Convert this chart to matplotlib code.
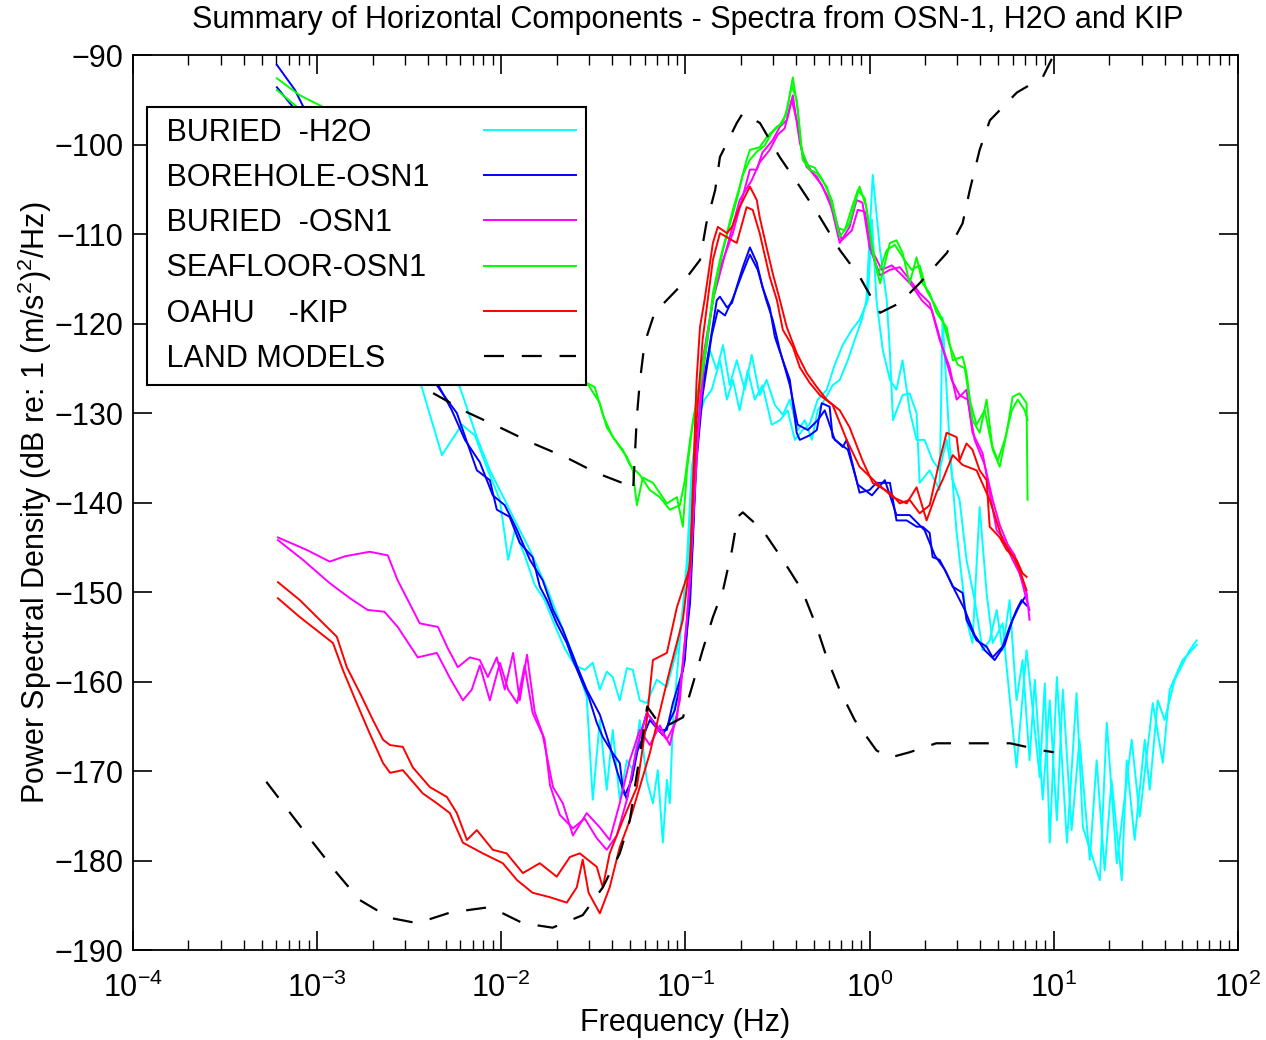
import numpy as np
import matplotlib.pyplot as plt
from matplotlib.ticker import LogLocator, NullFormatter

plt.rcParams['font.family'] = ['Liberation Sans', 'DejaVu Sans']
plt.rcParams['mathtext.fontset'] = 'custom'
plt.rcParams['mathtext.rm'] = 'Liberation Sans'
plt.rcParams['mathtext.it'] = 'Liberation Sans:italic'

# (frequency Hz, PSD dB) pairs, two horizontal components per site

# BURIED -H2O
h2o_1 = np.array([
    (1.17e-3, -111.8), (3.70e-3, -127.1), (4.76e-3, -134.7), (6.11e-3, -131.3), (7.19e-3, -132.5),
    (8.46e-3, -136.4), (9.83e-3, -139.7), (1.09e-2, -146.4), (1.185e-2, -143.1), (1.34e-2, -145.9),
    (1.52e-2, -149.2), (1.72e-2, -150.9), (1.95e-2, -153.7), (2.21e-2, -156.3), (2.51e-2, -158.2),
    (2.84e-2, -158.7), (3.14e-2, -157.9), (3.43e-2, -160.9), (3.74e-2, -158.9), (4.03e-2, -159.5),
    (4.40e-2, -162.1), (4.81e-2, -158.5), (5.18e-2, -158.7), (5.65e-2, -162.1), (6.17e-2, -162.4),
    (6.99e-2, -159.8), (7.93e-2, -160.6), (8.99e-2, -156.5), (0.102, -149.4), (0.108, -137.5),
    (0.115, -130.8), (0.124, -126.9), (0.136, -123.0), (0.148, -125.2), (0.160, -122.4),
    (0.174, -126.9), (0.190, -124.1), (0.210, -127.4), (0.229, -123.5), (0.253, -128.0),
    (0.276, -126.3), (0.306, -129.1), (0.338, -130.2), (0.369, -128.5), (0.407, -131.9),
    (0.445, -130.8), (0.486, -133.0), (0.523, -129.7), (0.571, -128.5), (0.630, -126.9),
    (0.689, -126.3), (0.762, -124.1), (0.831, -121.8), (0.907, -119.6), (0.961, -117.4),
    (1.04, -103.4), (1.14, -111.8), (1.24, -117.4), (1.29, -123.3), (1.34, -130.8),
    (1.51, -128.0), (1.65, -127.8), (1.80, -130.0), (1.87, -137.8), (2.12, -136.4),
    (2.40, -138.6), (2.49, -119.3), (2.72, -133.4), (2.97, -143.4), (3.36, -153.1),
    (3.62, -155.7), (3.96, -140.5), (4.32, -150.1), (4.66, -155.7), (5.28, -153.5),
    (5.55, -158.4), (6.28, -169.6), (7.12, -156.5), (8.39, -170.7), (8.94, -160.2),
    (9.51, -178.0), (10.4, -159.5), (11.8, -178.0), (13.3, -161.3), (14.4, -176.3),
    (17.8, -182.2), (19.4, -164.6), (22.0, -180.3), (26.5, -166.5), (29.3, -175.1),
    (34.5, -162.4), (39.1, -169.1), (42.6, -160.9), (50.1, -157.6), (59.7, -155.9),
])
h2o_2 = np.array([
    (1.33e-3, -112.9), (5.96e-3, -127.1), (7.37e-3, -132.7), (8.67e-3, -136.4), (1.045e-2, -139.7),
    (1.185e-2, -142.0), (1.43e-2, -145.3), (1.79e-2, -149.8), (2.16e-2, -154.2), (2.51e-2, -157.6),
    (2.91e-2, -161.7), (3.14e-2, -173.2), (3.43e-2, -164.3), (3.74e-2, -172.1), (4.03e-2, -165.4),
    (4.40e-2, -173.2), (4.81e-2, -168.8), (5.18e-2, -169.9), (5.65e-2, -164.3), (6.17e-2, -171.0),
    (6.66e-2, -173.6), (7.08e-2, -169.9), (7.54e-2, -178.0), (7.93e-2, -171.0), (8.23e-2, -173.6),
    (8.55e-2, -164.6), (9.33e-2, -155.4), (0.102, -146.4), (0.108, -136.4), (0.117, -130.8),
    (0.127, -128.5), (0.139, -127.4), (0.154, -124.1), (0.168, -128.5), (0.181, -126.3),
    (0.197, -129.7), (0.218, -125.2), (0.238, -128.5), (0.262, -126.9), (0.294, -131.3),
    (0.326, -130.8), (0.359, -129.7), (0.393, -133.0), (0.433, -131.9), (0.472, -131.3),
    (0.523, -128.5), (0.585, -127.4), (0.647, -124.6), (0.715, -122.4), (0.801, -120.7),
    (0.882, -119.6), (0.978, -117.4), (1.03, -108.4), (1.09, -117.4), (1.18, -123.0),
    (1.29, -126.3), (1.40, -127.4), (1.51, -124.1), (1.65, -129.7), (1.80, -133.0),
    (1.99, -133.0), (2.20, -135.3), (2.40, -136.4), (2.62, -133.0), (2.83, -137.5),
    (3.08, -139.7), (3.36, -146.4), (3.72, -150.9), (4.11, -156.5), (4.49, -155.4),
    (4.90, -152.0), (5.28, -156.5), (5.76, -150.9), (6.28, -162.1), (6.77, -157.6),
    (7.39, -168.8), (7.89, -159.8), (8.71, -173.2), (9.51, -162.1), (10.4, -175.5),
    (11.2, -160.9), (12.5, -176.6), (13.8, -166.5), (15.7, -179.9), (17.1, -168.8),
    (18.9, -181.1), (20.6, -171.0), (23.4, -182.2), (24.9, -168.8), (27.5, -177.7),
    (31.2, -166.5), (33.2, -172.1), (36.7, -162.1), (40.0, -164.3), (45.4, -159.8),
    (54.7, -156.5), (59.7, -155.4),
])

# BOREHOLE-OSN1
bore_1 = np.array([
    (6.05e-4, -91.1), (7.58e-4, -93.9), (1.17e-3, -101.7), (2.19e-3, -114.0), (4.47e-3, -126.9),
    (5.07e-3, -128.5), (5.74e-3, -130.0), (7.37e-3, -136.4), (8.67e-3, -137.5), (9.46e-3, -140.8),
    (1.11e-2, -141.6), (1.26e-2, -144.5), (1.48e-2, -146.1), (1.62e-2, -149.4), (1.77e-2, -150.9),
    (2.00e-2, -153.5), (2.27e-2, -155.7), (2.45e-2, -157.6), (2.77e-2, -160.2), (2.98e-2, -161.7),
    (3.30e-2, -164.6), (3.56e-2, -166.2), (4.03e-2, -168.0), (4.40e-2, -169.1), (4.57e-2, -171.8),
    (4.81e-2, -173.2), (5.18e-2, -169.9), (5.65e-2, -166.2), (6.17e-2, -163.5), (7.26e-2, -165.4),
    (7.93e-2, -165.4), (8.55e-2, -162.4), (9.69e-2, -158.7), (0.106, -151.2), (0.110, -143.9),
    (0.115, -133.0), (0.124, -127.1), (0.136, -122.2), (0.148, -117.4), (0.154, -117.0),
    (0.168, -118.2), (0.179, -117.7), (0.190, -115.9), (0.205, -113.7), (0.224, -111.5),
    (0.244, -113.2), (0.262, -115.9), (0.287, -118.2), (0.306, -121.5), (0.338, -124.1),
    (0.369, -126.3), (0.402, -132.2), (0.418, -133.0), (0.472, -132.5), (0.517, -131.9),
    (0.550, -128.9), (0.607, -129.3), (0.630, -132.7), (0.715, -133.8), (0.751, -133.0),
    (0.882, -138.9), (1.00, -138.6), (1.09, -137.8), (1.29, -137.8), (1.40, -142.0),
    (1.59, -142.0), (1.80, -142.7), (1.94, -142.7), (2.12, -143.4), (2.20, -146.1),
    (2.40, -146.4), (2.62, -147.9), (2.83, -149.4), (3.20, -150.1), (3.36, -153.1),
    (3.81, -155.4), (4.32, -156.1), (4.66, -157.3), (5.28, -156.1), (5.76, -153.9),
    (6.28, -152.0), (6.69, -150.9), (7.12, -151.5),
])
bore_2 = np.array([
    (6.05e-4, -93.6), (7.39e-4, -95.8), (1.17e-3, -104.0), (2.19e-3, -115.1), (4.64e-3, -127.2),
    (5.39e-3, -129.7), (6.35e-3, -133.0), (7.65e-3, -135.5), (9.00e-3, -139.2), (1.045e-2, -140.3),
    (1.22e-2, -143.1), (1.43e-2, -146.4), (1.68e-2, -148.7), (1.91e-2, -152.0), (2.16e-2, -154.2),
    (2.57e-2, -158.2), (2.91e-2, -160.9), (3.43e-2, -163.7), (3.88e-2, -167.1), (4.24e-2, -169.9),
    (4.69e-2, -172.7), (5.12e-2, -171.0), (5.50e-2, -167.7), (6.41e-2, -164.3), (7.54e-2, -166.0),
    (8.76e-2, -163.2), (9.93e-2, -157.6), (0.108, -146.4), (0.115, -135.3), (0.124, -128.0),
    (0.139, -121.3), (0.150, -118.5), (0.164, -119.1), (0.181, -117.2), (0.202, -114.6),
    (0.224, -112.3), (0.247, -114.0), (0.273, -117.2), (0.298, -119.6), (0.326, -123.0),
    (0.369, -126.9), (0.407, -131.3), (0.462, -131.9), (0.523, -130.8), (0.571, -129.7),
    (0.647, -133.0), (0.762, -134.1), (0.863, -138.0), (1.03, -139.2), (1.21, -137.5),
    (1.40, -141.4), (1.65, -141.4), (1.99, -143.1), (2.26, -145.9), (2.56, -147.5),
    (2.90, -149.8), (3.29, -152.0), (3.72, -154.8), (4.22, -156.5), (4.78, -157.6),
    (5.42, -155.9), (5.98, -153.1), (6.52, -151.5), (7.12, -150.3),
])

# BURIED -OSN1
buried_1 = np.array([
    (6.13e-4, -143.9), (8.80e-4, -145.3), (1.17e-3, -146.6), (1.42e-3, -146.0), (1.93e-3, -145.5),
    (2.42e-3, -145.9), (2.74e-3, -148.7), (3.11e-3, -150.9), (3.61e-3, -153.5), (4.53e-3, -153.9),
    (5.13e-3, -156.3), (5.81e-3, -158.4), (6.75e-3, -157.3), (7.65e-3, -157.6), (8.46e-3, -159.5),
    (9.46e-3, -157.3), (1.045e-2, -160.9), (1.16e-2, -156.8), (1.26e-2, -162.1), (1.38e-2, -157.0),
    (1.52e-2, -163.4), (1.72e-2, -166.5), (1.84e-2, -171.6), (2.08e-2, -174.9), (2.45e-2, -176.4),
    (2.84e-2, -175.3), (3.30e-2, -177.5), (3.74e-2, -178.8), (4.24e-2, -177.2), (4.81e-2, -173.2),
    (5.45e-2, -167.4), (6.17e-2, -163.5), (6.99e-2, -165.1), (7.93e-2, -166.5), (8.99e-2, -164.3),
    (0.102, -153.1), (0.110, -142.0), (0.124, -124.1), (0.148, -114.8), (0.181, -109.9),
    (0.224, -102.8), (0.244, -102.8), (0.262, -100.9), (0.298, -99.5), (0.326, -98.0),
    (0.355, -97.3), (0.383, -94.5), (0.418, -99.8), (0.455, -102.5), (0.517, -103.6),
    (0.607, -106.2), (0.689, -111.0), (0.779, -109.2), (0.850, -106.2), (0.915, -106.5),
    (1.00, -111.5), (1.14, -114.6), (1.29, -114.0), (1.46, -113.7), (1.65, -115.1),
    (1.87, -116.6), (2.12, -117.7), (2.40, -121.8), (2.72, -124.9), (2.97, -128.5),
    (3.36, -127.4), (3.62, -132.2), (4.11, -134.5), (4.49, -138.9), (4.90, -143.1),
    (5.28, -143.9), (5.98, -146.4), (6.52, -147.9), (7.12, -150.1), (7.39, -153.1),
])
buried_2 = np.array([
    (6.13e-4, -144.2), (8.37e-4, -146.4), (1.17e-3, -149.0), (1.51e-3, -150.7), (1.88e-3, -152.0),
    (2.32e-3, -152.2), (2.74e-3, -153.9), (3.52e-3, -157.3), (4.47e-3, -156.8), (5.26e-3, -159.6),
    (6.19e-3, -162.1), (6.92e-3, -160.9), (7.65e-3, -158.2), (8.67e-3, -162.1), (9.83e-3, -157.9),
    (1.09e-2, -160.9), (1.22e-2, -162.4), (1.34e-2, -158.2), (1.48e-2, -163.5), (1.68e-2, -166.0),
    (1.91e-2, -171.8), (2.16e-2, -173.6), (2.45e-2, -177.2), (2.91e-2, -174.7), (3.43e-2, -176.3),
    (3.88e-2, -177.7), (4.40e-2, -173.6), (4.99e-2, -168.8), (5.65e-2, -165.4), (6.41e-2, -167.1),
    (7.26e-2, -164.9), (8.23e-2, -167.1), (9.33e-2, -162.1), (0.106, -148.7), (0.115, -134.1),
    (0.127, -124.1), (0.141, -117.4), (0.164, -112.3), (0.197, -106.2), (0.229, -104.0),
    (0.253, -102.0), (0.287, -100.6), (0.317, -98.9), (0.346, -98.2), (0.378, -95.0),
    (0.402, -97.3), (0.433, -101.2), (0.486, -103.1), (0.550, -104.5), (0.647, -107.9),
    (0.706, -110.7), (0.801, -109.6), (0.863, -107.3), (0.942, -107.5), (1.03, -111.8),
    (1.165, -114.0), (1.32, -113.5), (1.50, -114.6), (1.69, -115.7), (1.92, -117.4),
    (2.18, -118.5), (2.47, -122.4), (2.79, -126.3), (3.08, -128.0), (3.41, -128.5),
    (3.72, -133.0), (4.22, -135.8), (4.66, -139.7), (5.09, -142.5), (5.63, -144.7),
    (6.14, -145.9), (6.69, -148.7), (7.12, -150.9), (7.39, -152.0),
])

# SEAFLOOR-OSN1
sea_1 = np.array([
    (6.05e-4, -92.6), (8.06e-4, -94.5), (1.075e-3, -95.8), (2.82e-3, -109.6), (9.83e-3, -120.7),
    (2.98e-2, -126.9), (3.43e-2, -128.9), (3.74e-2, -131.6), (4.40e-2, -133.8), (4.81e-2, -134.9),
    (5.18e-2, -136.4), (5.45e-2, -140.3), (5.87e-2, -137.2), (6.66e-2, -137.8), (7.93e-2, -140.1),
    (8.99e-2, -139.4), (9.69e-2, -142.7), (0.102, -136.4), (0.110, -130.8), (0.120, -127.1),
    (0.131, -122.2), (0.141, -116.6), (0.154, -112.9), (0.168, -109.9), (0.181, -107.3),
    (0.197, -104.7), (0.215, -101.7), (0.224, -100.6), (0.253, -100.3), (0.276, -99.2),
    (0.314, -98.0), (0.338, -97.6), (0.359, -95.8), (0.383, -92.5), (0.407, -96.1),
    (0.433, -101.7), (0.472, -102.8), (0.517, -103.2), (0.585, -104.7), (0.630, -107.0),
    (0.689, -110.3), (0.779, -108.8), (0.882, -104.7), (0.961, -107.0), (1.04, -112.1),
    (1.14, -115.5), (1.29, -111.0), (1.40, -110.7), (1.51, -112.1), (1.65, -115.5),
    (1.80, -112.6), (1.94, -115.5), (2.12, -116.6), (2.31, -118.8), (2.62, -120.4),
    (2.83, -124.1), (3.20, -123.7), (3.36, -125.5), (3.62, -130.8), (3.96, -132.2),
    (4.32, -128.5), (4.66, -134.1), (5.09, -136.0), (5.55, -132.2), (5.98, -128.2),
    (6.52, -127.8), (7.12, -128.9), (7.21, -139.7),
])
sea_2 = np.array([
    (6.05e-4, -93.9), (7.77e-4, -95.8), (2.82e-3, -110.7), (9.83e-3, -121.8), (3.22e-2, -127.1),
    (3.56e-2, -130.2), (4.03e-2, -132.7), (4.57e-2, -134.1), (4.99e-2, -135.8), (5.65e-2, -136.9),
    (6.41e-2, -138.6), (7.26e-2, -139.4), (8.23e-2, -140.8), (9.33e-2, -140.3), (9.93e-2, -137.5),
    (0.106, -133.0), (0.115, -128.5), (0.124, -124.6), (0.136, -119.4), (0.148, -115.1),
    (0.160, -111.8), (0.174, -109.0), (0.190, -106.2), (0.205, -103.4), (0.224, -101.7),
    (0.244, -100.8), (0.270, -100.1), (0.294, -98.7), (0.326, -97.8), (0.351, -96.7),
    (0.378, -93.4), (0.402, -95.0), (0.428, -100.6), (0.462, -102.3), (0.504, -102.6),
    (0.557, -104.0), (0.624, -106.2), (0.672, -109.3), (0.733, -109.6), (0.809, -106.8),
    (0.863, -105.1), (0.942, -106.0), (1.03, -111.2), (1.11, -114.6), (1.24, -111.8),
    (1.37, -111.2), (1.55, -112.9), (1.69, -114.0), (1.87, -113.5), (2.04, -116.3),
    (2.26, -117.9), (2.49, -119.6), (2.72, -122.4), (3.01, -124.6), (3.29, -125.0),
    (3.49, -128.5), (3.81, -131.3), (4.22, -129.7), (4.61, -133.6), (4.97, -135.3),
    (5.42, -133.0), (5.92, -129.7), (6.38, -128.5), (6.96, -129.7), (7.21, -130.8),
])

# OAHU -KIP
kip_1 = np.array([
    (6.13e-4, -148.9), (8.06e-4, -150.9), (1.28e-3, -155.0), (1.45e-3, -158.4), (1.71e-3, -161.3),
    (2.01e-3, -164.3), (2.28e-3, -166.5), (2.49e-3, -167.1), (2.92e-3, -167.3), (3.31e-3, -169.6),
    (4.10e-3, -171.8), (5.07e-3, -172.9), (5.74e-3, -174.7), (6.51e-3, -177.7), (7.37e-3, -176.6),
    (9.00e-3, -178.8), (1.07e-2, -179.2), (1.31e-2, -181.4), (1.62e-2, -180.3), (2.00e-2, -181.8),
    (2.36e-2, -179.6), (2.67e-2, -179.2), (3.30e-2, -180.7), (3.56e-2, -183.0), (3.88e-2, -179.2),
    (4.57e-2, -175.5), (5.45e-2, -171.8), (6.17e-2, -164.3), (6.66e-2, -157.6), (7.93e-2, -156.8),
    (8.99e-2, -151.7), (0.106, -147.2), (0.115, -126.3), (0.120, -120.4), (0.127, -117.4),
    (0.141, -111.0), (0.150, -109.2), (0.168, -109.9), (0.179, -109.2), (0.197, -107.0),
    (0.224, -104.7), (0.244, -106.2), (0.253, -108.1), (0.276, -111.5), (0.298, -114.4),
    (0.326, -117.4), (0.355, -120.4), (0.402, -123.3), (0.455, -125.5), (0.517, -127.1),
    (0.585, -128.5), (0.689, -129.7), (0.779, -131.6), (0.915, -135.3), (1.04, -137.8),
    (1.29, -138.9), (1.46, -140.1), (1.65, -139.7), (1.87, -141.2), (2.12, -140.3),
    (2.40, -135.3), (2.62, -132.2), (2.97, -132.7), (3.08, -135.3), (3.36, -133.4),
    (3.62, -134.1), (3.96, -136.4), (4.32, -137.5), (4.49, -142.7), (5.09, -143.9),
    (5.55, -145.3), (6.28, -146.4), (6.77, -147.9), (7.12, -148.3),
])
kip_2 = np.array([
    (6.13e-4, -150.7), (8.06e-4, -152.8), (1.22e-3, -155.7), (1.38e-3, -158.7), (1.64e-3, -162.4),
    (1.93e-3, -165.8), (2.28e-3, -169.1), (2.49e-3, -170.2), (2.92e-3, -169.9), (3.75e-3, -172.5),
    (4.47e-3, -173.6), (5.26e-3, -174.7), (6.19e-3, -178.0), (7.94e-3, -179.2), (1.02e-2, -180.3),
    (1.22e-2, -182.2), (1.48e-2, -183.6), (1.84e-2, -184.1), (2.27e-2, -184.7), (2.57e-2, -183.0),
    (2.77e-2, -179.9), (2.98e-2, -183.6), (3.43e-2, -185.9), (3.88e-2, -183.0), (4.40e-2, -178.5),
    (4.99e-2, -175.5), (5.65e-2, -171.8), (6.41e-2, -168.0), (8.23e-2, -158.7), (9.69e-2, -153.1),
    (0.106, -146.4), (0.115, -130.8), (0.124, -121.8), (0.141, -112.9), (0.154, -109.9),
    (0.190, -111.0), (0.215, -107.0), (0.232, -107.3), (0.253, -109.9), (0.287, -114.8),
    (0.314, -117.4), (0.338, -120.7), (0.383, -122.6), (0.418, -124.9), (0.472, -126.6),
    (0.537, -128.0), (0.630, -129.1), (0.751, -133.0), (0.882, -136.0), (1.09, -137.8),
    (1.34, -139.4), (1.59, -140.1), (1.80, -138.3), (2.04, -142.0), (2.31, -138.9),
    (2.49, -137.5), (2.83, -134.7), (3.20, -135.8), (3.81, -136.4), (4.49, -139.7),
    (5.28, -144.2), (5.98, -145.9), (6.52, -147.5), (7.12, -149.8),
])

# land noise models (high / low)
model_high = np.array([
    (5.2e-4, -118.2), (4.2e-3, -127.7), (6.5e-3, -129.9), (9.8e-3, -131.6), (1.49e-2, -133.4),
    (2.27e-2, -135.0), (3.3e-2, -136.7), (4.8e-2, -138.0), (5.2e-2, -138.6), (5.45e-2, -130.4),
    (5.65e-2, -126.6), (6.0e-2, -122.2), (6.8e-2, -118.8), (9.3e-2, -115.9), (0.12, -112.9),
    (0.13, -108.8), (0.145, -105.1), (0.154, -101.4), (0.19, -97.6), (0.205, -96.5),
    (0.254, -97.6), (0.325, -101.4), (0.418, -104.7), (0.537, -108.1), (0.69, -111.8),
    (0.885, -114.8), (1.14, -118.8), (1.46, -117.7), (1.87, -115.5), (2.63, -112.1),
    (3.2, -108.8), (3.5, -105.1), (3.96, -100.6), (4.5, -97.3), (6.3, -94.2),
    (8.7, -92.5), (10.0, -90.0),
])
model_low = np.array([
    (5.3e-4, -171.2), (7.4e-4, -175.1), (9.5e-4, -178.0), (1.28e-3, -181.4), (1.7e-3, -184.4),
    (2.48e-3, -186.4), (3.5e-3, -187.0), (5.3e-3, -185.8), (8.7e-3, -185.2), (1.31e-2, -187.0),
    (1.9e-2, -187.5), (2.77e-2, -186.1), (3.56e-2, -183.0), (4.4e-2, -179.2), (4.99e-2, -175.5),
    (6.2e-2, -162.8), (7.5e-2, -165.2), (9.7e-2, -164.0), (0.11, -160.2), (0.124, -156.5),
    (0.141, -152.8), (0.16, -149.8), (0.179, -145.3), (0.192, -141.6), (0.205, -141.1),
    (0.263, -143.1), (0.338, -146.4), (0.43, -149.8), (0.516, -153.9), (0.585, -157.3),
    (0.69, -161.0), (0.83, -164.3), (1.09, -167.7), (1.29, -168.5), (1.65, -167.9),
    (2.3, -166.9), (3.6, -166.9), (5.8, -166.9), (8.7, -167.7), (10.0, -167.9),
])

labels = [' BURIED  -H2O', ' BOREHOLE-OSN1', ' BURIED  -OSN1', ' SEAFLOOR-OSN1', ' OAHU    -KIP', ' LAND MODELS']
xticks = [1e-4, 1e-3, 1e-2, 1e-1, 1e0, 1e1, 1e2]

fs = 22
fig = plt.figure(figsize=(12.66, 10.4), dpi=100)
ax = fig.add_axes([0.105, 0.0865, 0.8728, 0.8606])

lw = 1.4
ax.plot(h2o_1[:, 0], h2o_1[:, 1], color='#00ffff', lw=lw, label=labels[0])
ax.plot(h2o_2[:, 0], h2o_2[:, 1], color='#00ffff', lw=lw)
ax.plot(bore_1[:, 0], bore_1[:, 1], color='#0000ff', lw=lw, label=labels[1])
ax.plot(bore_2[:, 0], bore_2[:, 1], color='#0000ff', lw=lw)
ax.plot(buried_1[:, 0], buried_1[:, 1], color='#ff00ff', lw=lw, label=labels[2])
ax.plot(buried_2[:, 0], buried_2[:, 1], color='#ff00ff', lw=lw)
ax.plot(sea_1[:, 0], sea_1[:, 1], color='#00ff00', lw=lw, label=labels[3])
ax.plot(sea_2[:, 0], sea_2[:, 1], color='#00ff00', lw=lw)
ax.plot(kip_1[:, 0], kip_1[:, 1], color='#ff0000', lw=lw, label=labels[4])
ax.plot(kip_2[:, 0], kip_2[:, 1], color='#ff0000', lw=lw)
ax.plot(model_high[:, 0], model_high[:, 1], color='black', lw=1.6, dashes=(9, 8), label=labels[5])
ax.plot(model_low[:, 0], model_low[:, 1], color='black', lw=1.6, dashes=(9, 8))

ax.set_xscale('log')
ax.set_xlim(1e-4, 1e2)
ax.set_ylim(-190, -90)
ax.set_xticks(xticks)
ax.set_yticks(np.arange(-190, -89, 10))
ax.xaxis.set_minor_locator(LogLocator(base=10, subs=np.arange(2, 10), numticks=20))
ax.xaxis.set_minor_formatter(NullFormatter())
ax.tick_params(which='both', direction='in', top=True, right=True, labelsize=fs)
ax.tick_params(which='major', length=14, width=1.2)
ax.tick_params(which='minor', length=7, width=1.0)
ax.tick_params(axis='x', pad=16)
ax.tick_params(axis='y', pad=7)
for s in ax.spines.values():
    s.set_linewidth(1.3)

ax.set_xlabel('Frequency (Hz)', fontsize=fs, labelpad=3)
ax.set_ylabel(r'Power Spectral Density (dB re: 1 (m/s$^2$)$^2$/Hz)', fontsize=fs, labelpad=0)
fig.text(0.5435, 0.981, 'Summary of Horizontal Components - Spectra from OSN-1, H2O and KIP',
         ha='center', va='center', fontsize=fs)

hpad = 1.8
leg = ax.legend(loc='upper left', bbox_to_anchor=(0.0127, 0.942), borderaxespad=0,
                fontsize=fs, markerfirst=False, handlelength=3.0, handletextpad=hpad,
                borderpad=0.35, labelspacing=0.5, fancybox=False, framealpha=1,
                edgecolor='black')
leg.get_frame().set_linewidth(1.5)

# left-align the labels while keeping the line samples in one column
fig.canvas.draw()
rows = leg._legend_handle_box.get_children()[0].get_children()
widths = [t.get_window_extent().width for t in leg.get_texts()]
wmax = max(widths)
for row, w in zip(rows, widths):
    row.sep = hpad * fs + (wmax - w) * 72.0 / fig.dpi

plt.savefig('out.png', dpi=100)
